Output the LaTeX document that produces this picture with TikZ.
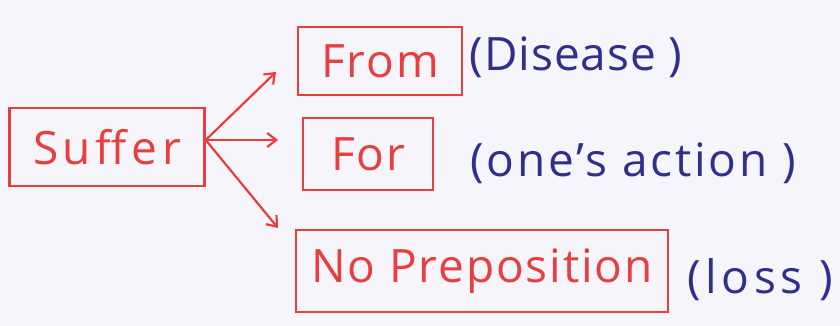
\documentclass[tikz,border=0pt]{standalone}
\usepackage{fontspec}
\setmainfont{Open Sans}
\usetikzlibrary{arrows.meta}
\definecolor{pen}{RGB}{232,62,62}
\definecolor{ink}{RGB}{48,48,140}
\definecolor{paper}{RGB}{247,245,252}
\tikzset{
  redbox/.style={draw=pen, line width=2.4pt, text=pen, inner sep=0pt, font=\fontsize{46}{50}\selectfont\addfontfeature{LetterSpace=4}},
  bluetext/.style={text=ink, inner sep=0pt, font=\fontsize{46}{50}\selectfont\addfontfeature{LetterSpace=6}},
  link/.style={draw=pen, line width=2.2pt, -{Straight Barb[length=9pt,width=14pt,line width=2.2pt]}}
}
\begin{document}
\begin{tikzpicture}[x=1pt,y=-1pt]
\fill[paper] (0,0) rectangle (840,326);
\useasboundingbox (0,0) rectangle (840,326);
\node[redbox, minimum width=195pt, minimum height=78pt] (suffer) at (107,147) {\addfontfeature{LetterSpace=10}Suffer};
\node[redbox, minimum width=164pt, minimum height=68pt] (from) at (380,61) {From};
\node[redbox, minimum width=130pt, minimum height=72pt] (for) at (368,154) {For};
\node[redbox, minimum width=372pt, minimum height=82pt] (nop) at (482,271) {No Preposition};
\node[bluetext] (dis) at (576,57) {\addfontfeature{LetterSpace=2}(Disease )};
\node[bluetext] (act) at (633,163) {(one's action )};
\node[bluetext] (loss) at (760,280) {\addfontfeature{LetterSpace=10}(loss )};
\coordinate (s) at (205,140);
\coordinate (t1) at (276,72);
\coordinate (t2) at (278,140);
\coordinate (t3) at (278,228);
\draw[link] (suffer.east |- s) -- (t1);
\draw[link] (suffer.east |- s) -- (t2);
\draw[link] (suffer.east |- s) -- (t3);
\end{tikzpicture}
\end{document}
